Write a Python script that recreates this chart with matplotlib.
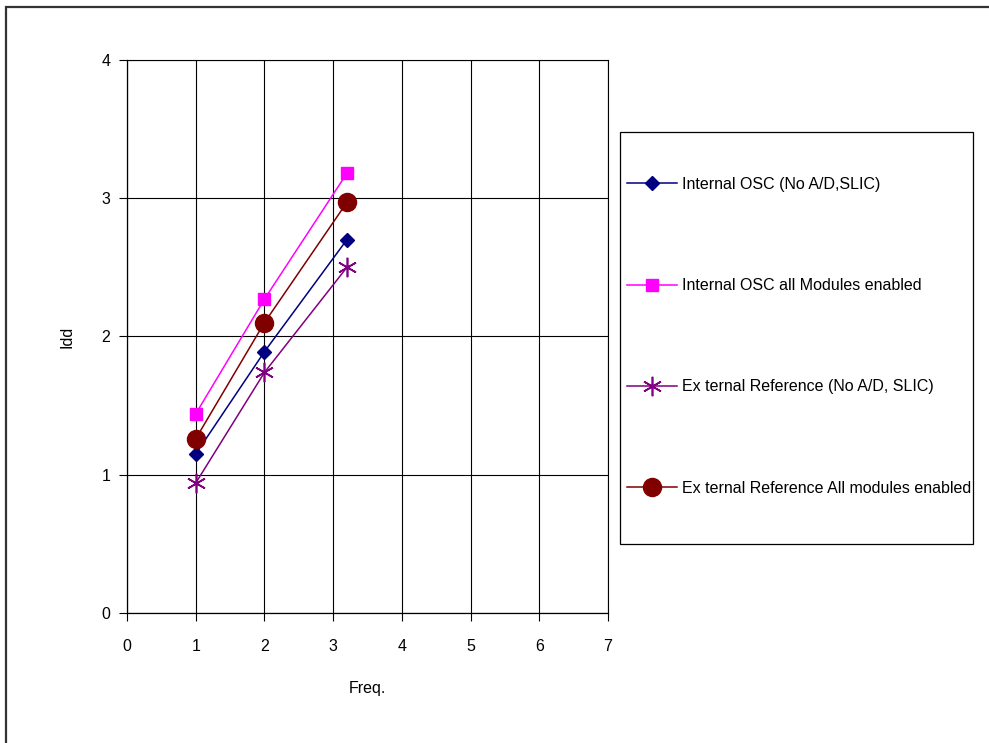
import matplotlib
matplotlib.use("Agg")
import matplotlib.pyplot as plt
from matplotlib.patches import Rectangle

plt.rcParams['font.family'] = ['Liberation Sans', 'DejaVu Sans']

# Daten
freq = [1, 2, 3.2]
int_osc = [1.15, 1.89, 2.70]
int_osc_all = [1.44, 2.27, 3.18]
ext_ref = [0.94, 1.74, 2.50]
ext_ref_all = [1.26, 2.10, 2.97]

labels = ["Internal OSC (No A/D,SLIC)",
          "Internal OSC all Modules enabled",
          "Ex ternal Reference (No A/D, SLIC)",
          "Ex ternal Reference All modules enabled"]

W, H = 989, 743
fs = 11.5
fig = plt.figure(figsize=(W / 100, H / 100), dpi=100)
ax = fig.add_axes([127 / W, 1 - 613 / H, (608 - 127) / W, (613 - 60) / H])

# Rahmen um die ganze Grafik
fig.patches.append(Rectangle((6 / W, -0.1), 1.2, 1.1 - 7 / H, transform=fig.transFigure,
                             fill=False, edgecolor='#333333', linewidth=1.6))

l1, = ax.plot(freq, int_osc, color='#000080', lw=1.1, marker='D', ms=7)
l2, = ax.plot(freq, int_osc_all, color='#FF00FF', lw=1.1, marker='s', ms=8.5)
l3, = ax.plot(freq, ext_ref, color='#800080', lw=1.1, marker=(6, 2, 0), ms=14, mew=1.2)
l4, = ax.plot(freq, ext_ref_all, color='#800000', lw=1.1, marker='o', ms=13)

ax.set_xlim(0, 7)
ax.set_ylim(0, 4)
ax.set_xticks(range(0, 8))
ax.set_yticks(range(0, 5))
ax.grid(True, color='black', linewidth=0.8)
ax.set_axisbelow(True)
for s in ['top', 'right']:
    ax.spines[s].set_linewidth(0.8)
for s in ['left', 'bottom']:
    ax.spines[s].set_linewidth(0.9)
ax.tick_params(direction='out', length=6, width=0.8, labelsize=fs)
ax.tick_params(axis='x', pad=13)
ax.tick_params(axis='y', pad=6)

ax.set_xlabel("Freq.", fontsize=fs, labelpad=19)
ax.set_ylabel("Idd", fontsize=fs, labelpad=19)

# Legende mit eigenem Rahmen
fig.patches.append(Rectangle((620 / W, 1 - 544 / H), 353 / W, 412 / H,
                             transform=fig.transFigure, fill=False,
                             edgecolor='black', linewidth=0.9))
fig.legend([l1, l2, l3, l4], labels, loc='upper left',
           bbox_to_anchor=(627 / W, 1 - 177 / H), frameon=False,
           fontsize=fs, handlelength=3.1, handletextpad=0.35,
           labelspacing=5.4, borderaxespad=0, borderpad=0)

fig.savefig("out.png", dpi=100)
